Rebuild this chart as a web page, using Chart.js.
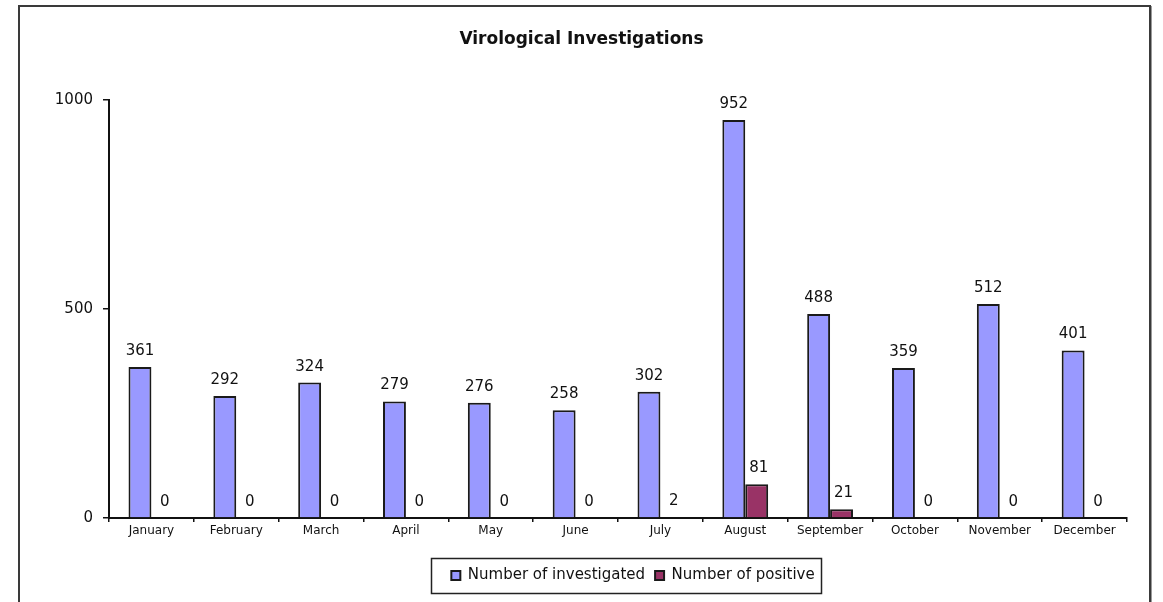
<!DOCTYPE html>
<html>
<head>
<meta charset="utf-8">
<title>Virological Investigations</title>
<script src="https://cdn.jsdelivr.net/npm/chart.js@4.4.1/dist/chart.umd.min.js"></script>
<style>
  html, body { margin: 0; padding: 0; background: #fff; }
  #wrap { width: 1163px; height: 602px; position: relative; }
</style>
</head>
<body>
<div id="wrap"><canvas id="barChart" width="1163" height="602"></canvas></div>
<script>
// chart data
const months = ['January', 'February', 'March', 'April', 'May', 'June',
                'July', 'August', 'September', 'October', 'November', 'December'];
const investigated = [361, 292, 324, 279, 276, 258, 302, 952, 488, 359, 512, 401];
const positive = [0, 0, 0, 0, 0, 0, 2, 81, 21, 0, 0, 0];
const yTicks = [0, 500, 1000];

const FONT = "'DejaVu Sans', Arial, sans-serif";

// outer frame of the picture
const framePlugin = {
    id: 'frame',
    beforeDraw(chart) {
        const ctx = chart.ctx;
        ctx.save();
        ctx.strokeStyle = '#3a3a3a';
        ctx.lineWidth = 2;
        ctx.strokeRect(19, 6, 1131, 700);
        ctx.strokeStyle = '#9a9a9a';
        ctx.lineWidth = 1;
        ctx.beginPath();
        ctx.moveTo(1151.5, 6);
        ctx.lineTo(1151.5, 602);
        ctx.stroke();
        ctx.restore();
    }
};

// values written above each bar
const valueLabels = {
    id: 'valueLabels',
    afterDatasetsDraw(chart) {
        const ctx = chart.ctx;
        ctx.save();
        ctx.font = '15px ' + FONT;
        ctx.fillStyle = '#111';
        ctx.textAlign = 'center';
        ctx.textBaseline = 'alphabetic';
        chart.data.datasets.forEach((ds, i) => {
            chart.getDatasetMeta(i).data.forEach((bar, j) => {
                ctx.fillText(String(ds.data[j]), bar.x + (i === 1 ? 2 : 0), bar.y - 12);
            });
        });
        ctx.restore();
    }
};

// legend sits a bit right of centre in the original, with a box round it
const legendBox = {
    id: 'legendBox',
    afterLayout(chart) {
        const lg = chart.legend;
        if (!lg) return;
        const shift = 633 - (lg.left + lg.right) / 2;
        lg.left += shift;
        lg.right += shift;
    },
    afterDraw(chart) {
        const lg = chart.legend;
        if (!lg || !lg.legendHitBoxes.length) return;
        const boxes = lg.legendHitBoxes;
        const left = boxes[0].left - 20;
        const right = boxes[boxes.length - 1].left + boxes[boxes.length - 1].width + 7;
        const ctx = chart.ctx;
        ctx.save();
        ctx.strokeStyle = '#222';
        ctx.lineWidth = 1.5;
        ctx.strokeRect(Math.round(left) + 0.5, Math.round(lg.top) + 0.5,
                       Math.round(right - left), Math.round(lg.bottom - lg.top));
        ctx.restore();
    }
};

new Chart(document.getElementById('barChart'), {
    type: 'bar',
    data: {
        labels: months,
        datasets: [{
            label: 'Number of investigated',
            data: investigated,
            backgroundColor: '#9999ff',
            borderColor: '#1a1a1a',
            borderWidth: 2,
            borderSkipped: 'bottom',
            categoryPercentage: 0.54,
            barPercentage: 1.0
        }, {
            label: 'Number of positive',
            data: positive,
            backgroundColor: '#993366',
            borderColor: '#1a1a1a',
            borderWidth: 2,
            borderSkipped: 'bottom',
            categoryPercentage: 0.54,
            barPercentage: 1.0
        }]
    },
    options: {
        responsive: false,
        animation: false,
        layout: {
            padding: { left: 18, right: 18, top: 0, bottom: 9 }
        },
        scales: {
            x: {
                grid: {
                    display: true,
                    drawOnChartArea: false,
                    drawTicks: true,
                    tickLength: 4,
                    color: '#111',
                    lineWidth: 1.5,
                    offset: true
                },
                border: { display: true, color: '#111', width: 2 },
                ticks: {
                    font: { family: FONT, size: 12 },
                    color: '#111',
                    padding: 2,
                    maxRotation: 0
                },
                afterFit(scale) { scale.height = 40; }
            },
            y: {
                min: 0,
                max: 1000,
                afterBuildTicks(scale) {
                    scale.ticks = yTicks.map(v => ({ value: v }));
                },
                grid: {
                    display: true,
                    drawOnChartArea: false,
                    drawTicks: true,
                    tickLength: 6,
                    color: '#111',
                    lineWidth: 1.5
                },
                border: { display: true, color: '#111', width: 2 },
                ticks: {
                    font: { family: FONT, size: 15 },
                    color: '#111',
                    padding: 10,
                    callback: v => String(v)
                },
                afterFit(scale) { scale.width = 91; }
            },
            // empty spacer on the right so the plot ends where the original does
            spacer: {
                type: 'linear',
                position: 'right',
                display: true,
                grid: { display: false },
                border: { display: false },
                ticks: { display: false },
                afterFit(scale) { scale.width = 18; }
            }
        },
        plugins: {
            title: {
                display: true,
                text: 'Virological Investigations',
                font: { family: FONT, size: 17, weight: 'bold' },
                color: '#111',
                padding: { top: 29, bottom: 50.6 }
            },
            legend: {
                position: 'bottom',
                labels: {
                    font: { family: FONT, size: 15 },
                    color: '#111',
                    boxWidth: 9,
                    boxHeight: 9,
                    padding: 10
                }
            },
            tooltip: { enabled: false }
        }
    },
    plugins: [framePlugin, valueLabels, legendBox]
});
</script>
</body>
</html>
